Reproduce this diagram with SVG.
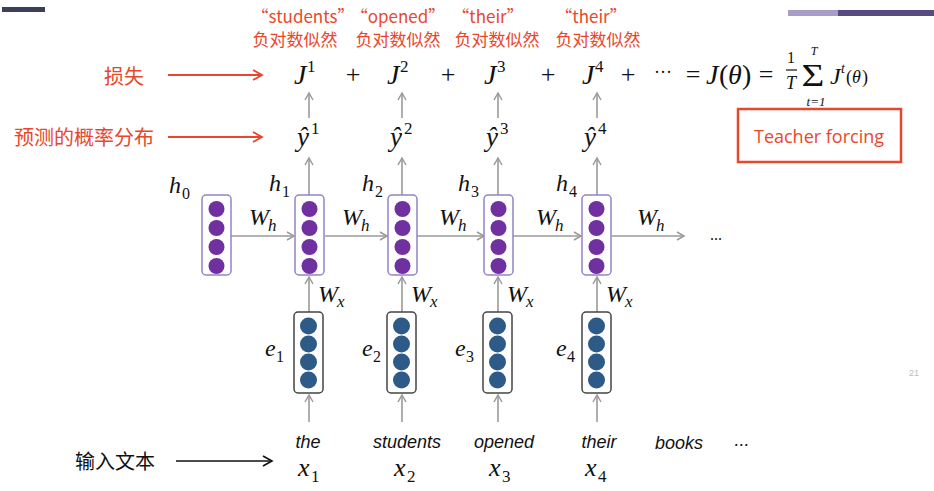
<svg xmlns="http://www.w3.org/2000/svg" width="934" height="491" viewBox="0 0 934 491">
<defs>
<style>
.red{fill:#e8472c;font-family:"Noto Sans CJK SC","Noto Sans",sans-serif;}
.m{font-family:"Liberation Serif","DejaVu Serif",serif;font-style:italic;fill:#111;}
.mr{font-family:"Liberation Serif","DejaVu Serif",serif;fill:#111;}
.w{font-family:"Liberation Sans",Arial,sans-serif;font-style:italic;font-size:18px;fill:#111;}
.box{fill:#fff;stroke:#9483c8;stroke-width:1.5;}
.ebox{fill:#fff;stroke:#444;stroke-width:1.5;}
.pc{fill:#7030a0;}
.bc{fill:#2e5a88;}
.ga{stroke:#9a9a9a;stroke-width:1.6;fill:none;marker-end:url(#ga);}
.ra{stroke:#e8472c;stroke-width:1.8;fill:none;marker-end:url(#ra);}
.ka{stroke:#111;stroke-width:1.6;fill:none;marker-end:url(#ka);}
</style>
<marker id="ga" markerWidth="10" markerHeight="10" refX="8" refY="5" orient="auto" markerUnits="userSpaceOnUse"><path d="M1,1 L8,5 L1,9" fill="none" stroke="#9a9a9a" stroke-width="1.5"/></marker>
<marker id="ra" markerWidth="12" markerHeight="12" refX="10" refY="6" orient="auto" markerUnits="userSpaceOnUse"><path d="M1,1 L10,6 L1,11" fill="none" stroke="#e8472c" stroke-width="1.8"/></marker>
<marker id="ka" markerWidth="12" markerHeight="12" refX="10" refY="6" orient="auto" markerUnits="userSpaceOnUse"><path d="M1,1 L10,6 L1,11" fill="none" stroke="#111" stroke-width="1.6"/></marker>
<g id="hc"><circle class="pc" cx="0" cy="209" r="8"/><circle class="pc" cx="0" cy="228" r="8"/><circle class="pc" cx="0" cy="247" r="8"/><circle class="pc" cx="0" cy="266" r="8"/></g>
<g id="ec"><circle class="bc" cx="0" cy="326" r="8.5"/><circle class="bc" cx="0" cy="344" r="8.5"/><circle class="bc" cx="0" cy="362" r="8.5"/><circle class="bc" cx="0" cy="380" r="8.5"/></g>
</defs>
<rect width="934" height="491" fill="#fff"/>
<!-- slide decorations -->
<rect x="2" y="7" width="43" height="5" fill="#3c3f5c"/>
<rect x="788" y="10" width="50" height="6" fill="#a99cc8"/>
<rect x="838" y="10" width="96" height="6" fill="#5a4a82"/>

<!-- top red labels -->
<g id="labels-top">
<text class="red" font-size="17" x="303" y="23" text-anchor="middle">“students”</text>
<text class="red" font-size="17" x="398" y="23" text-anchor="middle">“opened”</text>
<text class="red" font-size="17" x="488" y="23" text-anchor="middle">“their”</text>
<text class="red" font-size="17" x="591" y="23" text-anchor="middle">“their”</text>
<text class="red" font-size="17" x="295" y="46" text-anchor="middle">负对数似然</text>
<text class="red" font-size="17" x="398" y="46" text-anchor="middle">负对数似然</text>
<text class="red" font-size="17" x="497" y="46" text-anchor="middle">负对数似然</text>
<text class="red" font-size="17" x="598" y="46" text-anchor="middle">负对数似然</text>
</g>
<g id="label-loss"><text class="red" font-size="20" x="104" y="84">损失</text></g>
<g id="label-pred"><text class="red" font-size="20" x="14" y="145">预测的概率分布</text></g>
<g id="label-input"><text font-family="'Noto Sans CJK SC',sans-serif" font-size="20" fill="#111" x="75" y="469">输入文本</text></g>

<!-- loss line -->
<g id="loss">
<text class="m" font-size="28" x="294" y="84">J</text><text class="mr" font-size="17" x="307" y="72">1</text>
<text class="mr" font-size="26" x="353" y="83" text-anchor="middle">+</text>
<text class="m" font-size="28" x="387" y="84">J</text><text class="mr" font-size="17" x="400" y="72">2</text>
<text class="mr" font-size="26" x="448" y="83" text-anchor="middle">+</text>
<text class="m" font-size="28" x="484" y="84">J</text><text class="mr" font-size="17" x="497" y="72">3</text>
<text class="mr" font-size="26" x="548" y="83" text-anchor="middle">+</text>
<text class="m" font-size="28" x="582" y="84">J</text><text class="mr" font-size="17" x="595" y="72">4</text>
<text class="mr" font-size="26" x="628" y="83" text-anchor="middle">+</text>
<text class="mr" font-size="18" x="663" y="78" text-anchor="middle">···</text>
<text class="mr" font-size="26" x="693" y="83" text-anchor="middle">=</text>
<text class="m" font-size="28" x="706" y="84">J</text><text class="mr" font-size="28" x="719" y="84">(</text><text class="m" font-size="28" x="728" y="84">θ</text><text class="mr" font-size="28" x="742" y="84">)</text>
<text class="mr" font-size="26" x="766" y="83" text-anchor="middle">=</text>
<text class="mr" font-size="16" x="791" y="63" text-anchor="middle">1</text>
<line x1="786" y1="70" x2="797" y2="70" stroke="#111" stroke-width="1.2"/>
<text class="m" font-size="18" x="791" y="89" text-anchor="middle">T</text>
<text class="mr" font-size="28" text-anchor="middle" transform="translate(813,86) scale(1.4,1.1)">Σ</text>
<text class="m" font-size="12" x="814" y="55" text-anchor="middle">T</text>
<text class="m" font-size="13" x="816" y="106" text-anchor="middle">t=1</text>
<text class="m" font-size="24" x="830" y="84">J</text><text class="m" font-size="14" x="841" y="73">t</text>
<text class="mr" font-size="18" x="846" y="83">(</text><text class="m" font-size="18" x="852" y="83">θ</text><text class="mr" font-size="18" x="862" y="83">)</text>
</g>

<!-- y hat -->
<g id="yhat">
<text class="m" font-size="27" x="297" y="146">ŷ</text><text class="mr" font-size="17" x="311" y="134">1</text>
<text class="m" font-size="27" x="390" y="146">ŷ</text><text class="mr" font-size="17" x="404" y="134">2</text>
<text class="m" font-size="27" x="486" y="146">ŷ</text><text class="mr" font-size="17" x="500" y="134">3</text>
<text class="m" font-size="27" x="584" y="146">ŷ</text><text class="mr" font-size="17" x="598" y="134">4</text>
</g>

<!-- Teacher forcing -->
<g id="teacher">
<rect x="738" y="109" width="163" height="53" fill="none" stroke="#e8472c" stroke-width="2.5"/>
<text font-family="'Open Sans','Noto Sans',sans-serif" font-size="18" fill="#e8472c" x="819" y="143" text-anchor="middle">Teacher forcing</text>
</g>

<!-- connectors -->
<g id="connectors">
<line class="ra" x1="168" y1="75" x2="262" y2="75"/>
<line class="ra" x1="168" y1="137" x2="262" y2="137"/>
<line class="ka" x1="176" y1="461" x2="272" y2="461"/>
<line class="ga" x1="309" y1="118" x2="309" y2="93"/>
<line class="ga" x1="402" y1="118" x2="402" y2="93"/>
<line class="ga" x1="498" y1="118" x2="498" y2="93"/>
<line class="ga" x1="597" y1="118" x2="597" y2="93"/>
<line class="ga" x1="309" y1="195" x2="309" y2="158"/>
<line class="ga" x1="402" y1="195" x2="402" y2="158"/>
<line class="ga" x1="498" y1="195" x2="498" y2="158"/>
<line class="ga" x1="597" y1="195" x2="597" y2="158"/>
<line class="ga" x1="231" y1="236" x2="294" y2="236"/>
<line class="ga" x1="325" y1="236" x2="387" y2="236"/>
<line class="ga" x1="417" y1="236" x2="484" y2="236"/>
<line class="ga" x1="513" y1="236" x2="581" y2="236"/>
<line class="ga" x1="612" y1="236" x2="684" y2="236"/>
<line class="ga" x1="309" y1="312" x2="309" y2="277"/>
<line class="ga" x1="402" y1="312" x2="402" y2="277"/>
<line class="ga" x1="498" y1="312" x2="498" y2="277"/>
<line class="ga" x1="597" y1="312" x2="597" y2="277"/>
<line class="ga" x1="309" y1="422" x2="309" y2="395"/>
<line class="ga" x1="402" y1="422" x2="402" y2="395"/>
<line class="ga" x1="498" y1="422" x2="498" y2="395"/>
<line class="ga" x1="597" y1="422" x2="597" y2="395"/>
</g>
<text class="mr" font-size="16" x="716" y="240" text-anchor="middle">...</text>

<!-- hidden states -->
<g id="h0"><rect class="box" x="202" y="195" width="29" height="80" rx="4"/><use href="#hc" x="216.5"/>
<text class="m" font-size="24" x="169" y="193">h</text><text class="mr" font-size="16" x="182" y="199">0</text></g>
<g id="h1"><rect class="box" x="295" y="195" width="29" height="80" rx="4"/><use href="#hc" x="309.5"/>
<text class="m" font-size="24" x="269" y="191">h</text><text class="mr" font-size="16" x="282" y="197">1</text></g>
<g id="h2"><rect class="box" x="388" y="195" width="29" height="80" rx="4"/><use href="#hc" x="402.5"/>
<text class="m" font-size="24" x="362" y="191">h</text><text class="mr" font-size="16" x="375" y="197">2</text></g>
<g id="h3"><rect class="box" x="484" y="195" width="29" height="80" rx="4"/><use href="#hc" x="498.5"/>
<text class="m" font-size="24" x="458" y="191">h</text><text class="mr" font-size="16" x="471" y="197">3</text></g>
<g id="h4"><rect class="box" x="582" y="195" width="29" height="80" rx="4"/><use href="#hc" x="596.5"/>
<text class="m" font-size="24" x="556" y="191">h</text><text class="mr" font-size="16" x="569" y="197">4</text></g>

<!-- Wh labels -->
<g id="wh">
<text class="m" font-size="24" x="249" y="225">W</text><text class="m" font-size="17" x="268" y="231">h</text>
<text class="m" font-size="24" x="342" y="225">W</text><text class="m" font-size="17" x="361" y="231">h</text>
<text class="m" font-size="24" x="439" y="225">W</text><text class="m" font-size="17" x="458" y="231">h</text>
<text class="m" font-size="24" x="536" y="225">W</text><text class="m" font-size="17" x="555" y="231">h</text>
<text class="m" font-size="24" x="637" y="225">W</text><text class="m" font-size="17" x="656" y="231">h</text>
</g>

<!-- Wx labels -->
<g id="wx">
<text class="m" font-size="24" x="318" y="302">W</text><text class="m" font-size="17" x="337" y="307">x</text>
<text class="m" font-size="24" x="411" y="302">W</text><text class="m" font-size="17" x="430" y="307">x</text>
<text class="m" font-size="24" x="507" y="302">W</text><text class="m" font-size="17" x="526" y="307">x</text>
<text class="m" font-size="24" x="606" y="302">W</text><text class="m" font-size="17" x="625" y="307">x</text>
</g>

<!-- embeddings -->
<g id="e1"><rect class="ebox" x="294" y="312" width="29" height="81" rx="4"/><use href="#ec" x="308.5"/>
<text class="m" font-size="24" x="265" y="356">e</text><text class="mr" font-size="16" x="276" y="362">1</text></g>
<g id="e2"><rect class="ebox" x="387" y="312" width="29" height="81" rx="4"/><use href="#ec" x="401.5"/>
<text class="m" font-size="24" x="362" y="356">e</text><text class="mr" font-size="16" x="373" y="362">2</text></g>
<g id="e3"><rect class="ebox" x="483" y="312" width="29" height="81" rx="4"/><use href="#ec" x="497.5"/>
<text class="m" font-size="24" x="455" y="356">e</text><text class="mr" font-size="16" x="466" y="362">3</text></g>
<g id="e4"><rect class="ebox" x="582" y="312" width="29" height="81" rx="4"/><use href="#ec" x="596.5"/>
<text class="m" font-size="24" x="556" y="356">e</text><text class="mr" font-size="16" x="567" y="362">4</text></g>

<!-- words -->
<g id="words">
<text class="w" x="308" y="448" text-anchor="middle">the</text>
<text class="w" x="407" y="448" text-anchor="middle">students</text>
<text class="w" x="504" y="448" text-anchor="middle">opened</text>
<text class="w" x="599" y="448" text-anchor="middle">their</text>
<text class="w" x="679" y="449" text-anchor="middle">books</text>
<text class="w" x="742" y="446" text-anchor="middle" font-style="normal">...</text>
</g>
<g id="xs">
<text class="m" font-size="26" x="298" y="476">x</text><text class="mr" font-size="17" x="311" y="482">1</text>
<text class="m" font-size="26" x="394" y="476">x</text><text class="mr" font-size="17" x="407" y="482">2</text>
<text class="m" font-size="26" x="489" y="476">x</text><text class="mr" font-size="17" x="502" y="482">3</text>
<text class="m" font-size="26" x="585" y="476">x</text><text class="mr" font-size="17" x="598" y="482">4</text>
</g>
<text font-family="'Liberation Sans',sans-serif" font-size="9" fill="#bbb" x="914" y="376" text-anchor="middle">21</text>
</svg>
